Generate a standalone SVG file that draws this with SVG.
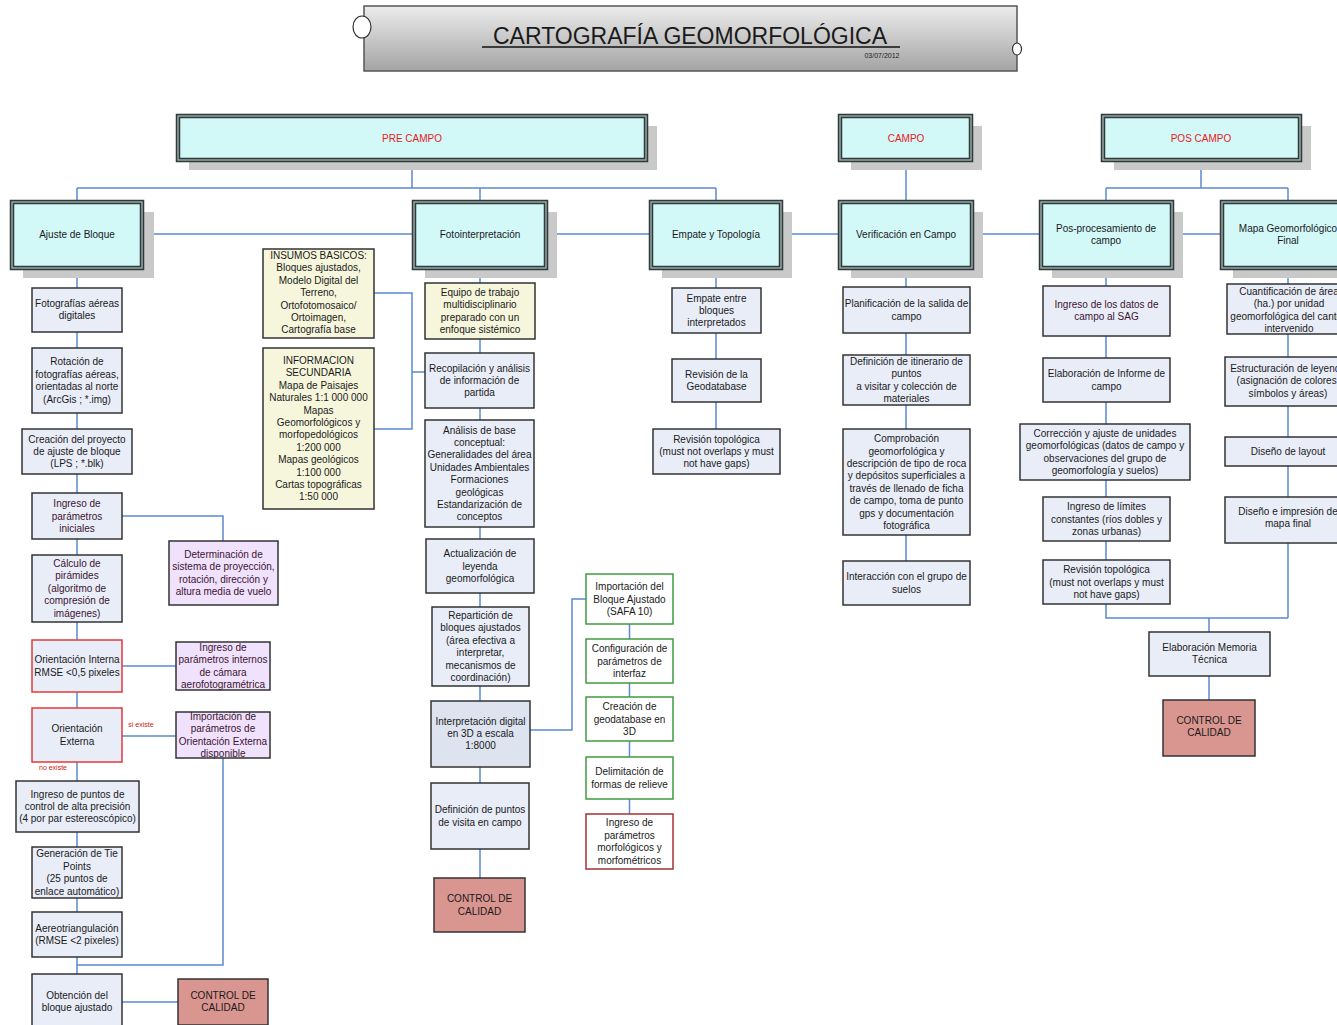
<svg xmlns="http://www.w3.org/2000/svg" width="1337" height="1025" viewBox="0 0 1337 1025">
<defs>
<linearGradient id="tg" x1="0" y1="0" x2="0" y2="1">
<stop offset="0" stop-color="#ececec"/>
<stop offset="1" stop-color="#a4a4a4"/>
</linearGradient>
</defs>
<style>
text{font-family:"Liberation Sans",Arial,sans-serif;font-size:10px;fill:#1a1a1a;text-anchor:middle}
.c{stroke:#5b8bd1;stroke-width:1.5;fill:none}
.b{fill:#e9edf8;stroke:#333;stroke-width:1.5}
.p{fill:#f0e2fc;stroke:#333;stroke-width:1.5}
.y{fill:#f6f6dc;stroke:#333;stroke-width:1.5}
.r{fill:#e9edf8;stroke:#e23a3a;stroke-width:1.5}
.g{fill:#ffffff;stroke:#3f9a3f;stroke-width:1.5}
.gr{fill:#ffffff;stroke:#a83030;stroke-width:1.5}
.q{fill:#d9958f;stroke:#333;stroke-width:1.5}
.cy{fill:#d2f8f8;stroke:#2e3b3b;stroke-width:4.5}
.ci{fill:none;stroke:#a8b4b4;stroke-width:1.3}
.sh{fill:#c9c9c9}
.h{fill:#e8201a}
.m{fill:#3c1430}
.lbl{fill:#d02020;font-size:7px}
</style>

<g id="title">
<rect x="364" y="6" width="653" height="65" fill="url(#tg)" stroke="#555" stroke-width="1.5"/>
<ellipse cx="362" cy="27" rx="9" ry="11" fill="#fff" stroke="#333" stroke-width="1.2"/>
<ellipse cx="1017" cy="49" rx="4.5" ry="6" fill="#fff" stroke="#333" stroke-width="1.2"/>
<text x="690" y="44" style="font-size:23px" textLength="394" lengthAdjust="spacingAndGlyphs">CARTOGRAFÍA GEOMORFOLÓGICA</text>
<line x1="482" y1="47" x2="900" y2="47" stroke="#111" stroke-width="1.3"/>
<text x="882" y="58" style="font-size:7px">03/07/2012</text>
</g>

<g id="connectors">
<path class="c" d="M412,160V188M77,188H716M77,188V202M480,188V202M716,188V202"/>
<path class="c" d="M906,160V202"/>
<path class="c" d="M1201,160V188M1106,188H1288M1106,188V202M1288,188V202"/>
<path class="c" d="M142,234H414M546,234H651M781,234H840M972,234H1041M1172,234H1222"/>
<path class="c" d="M77,268V288M77,332V348M77,413V429M77,474V493M77,539V555M77,622V640M77,692V708M77,762V781M77,832V847M77,898V912M77,957V974"/>
<path class="c" d="M122,516H223V541M122,666H176M122,736H176M223,758V965H77M122,1002H178"/>
<path class="c" d="M374,293H412V429H374M412,372H425"/>
<path class="c" d="M480,268V283M480,339V353M480,408V420M480,527V539M480,593V607M480,686V701M480,767V783M480,849V878"/>
<path class="c" d="M530,730H572V599H586"/>
<path class="c" d="M629.5,624V639M629.5,683V697M629.5,741V757M629.5,799V814"/>
<path class="c" d="M716,268V288M716,333V359M716,402V429"/>
<path class="c" d="M906,268V287M906,333V355M906,405V429M906,535V561"/>
<path class="c" d="M1106,268V286M1106,336V358M1106,402V424M1106,480V497M1106,541V560M1106,604V618H1288M1288,543V618M1209,618V632M1209,676V700"/>
<path class="c" d="M1288,268V284M1288,334V357M1288,406V437M1288,466V497"/>
</g>

<g id="pre-campo">
<rect class="sh" x="189" y="126" width="468" height="44"/>
<rect class="cy" x="178" y="116" width="468" height="44"/><rect class="ci" x="178" y="116" width="468" height="44"/>
<text class="h" x="412" y="142">PRE CAMPO</text>
</g>
<g id="campo">
<rect class="sh" x="851" y="126" width="131" height="44"/>
<rect class="cy" x="840" y="116" width="131" height="44"/><rect class="ci" x="840" y="116" width="131" height="44"/>
<text class="h" x="906" y="142">CAMPO</text>
</g>
<g id="pos-campo">
<rect class="sh" x="1114" y="126" width="197" height="44"/>
<rect class="cy" x="1103" y="116" width="197" height="44"/><rect class="ci" x="1103" y="116" width="197" height="44"/>
<text class="h" x="1201" y="142">POS CAMPO</text>
</g>

<g id="ajuste-bloque">
<rect class="sh" x="23" y="212" width="131" height="66"/>
<rect class="cy" x="12" y="202" width="130" height="66"/><rect class="ci" x="12" y="202" width="130" height="66"/>
<text x="77" y="238">Ajuste de Bloque</text>
</g>
<g id="fotointerpretacion">
<rect class="sh" x="425" y="212" width="132" height="66"/>
<rect class="cy" x="414" y="202" width="132" height="66"/><rect class="ci" x="414" y="202" width="132" height="66"/>
<text x="480" y="238">Fotointerpretación</text>
</g>
<g id="empate-topologia">
<rect class="sh" x="662" y="212" width="130" height="66"/>
<rect class="cy" x="651" y="202" width="130" height="66"/><rect class="ci" x="651" y="202" width="130" height="66"/>
<text x="716" y="238">Empate y Topología</text>
</g>
<g id="verificacion-campo">
<rect class="sh" x="851" y="212" width="132" height="66"/>
<rect class="cy" x="840" y="202" width="132" height="66"/><rect class="ci" x="840" y="202" width="132" height="66"/>
<text x="906" y="238">Verificación en Campo</text>
</g>
<g id="pos-procesamiento">
<rect class="sh" x="1052" y="212" width="131" height="66"/>
<rect class="cy" x="1041" y="202" width="131" height="66"/><rect class="ci" x="1041" y="202" width="131" height="66"/>
<text x="1106" y="232"><tspan x="1106">Pos-procesamiento de</tspan><tspan x="1106" dy="12.4">campo</tspan></text>
</g>
<g id="mapa-final">
<rect class="sh" x="1233" y="212" width="132" height="66"/>
<rect class="cy" x="1222" y="202" width="132" height="66"/><rect class="ci" x="1222" y="202" width="132" height="66"/>
<text x="1288" y="232"><tspan x="1288">Mapa Geomorfológico</tspan><tspan x="1288" dy="12.4">Final</tspan></text>
</g>

<!-- Ajuste de Bloque column -->
<g id="n-fotografias">
<rect class="b" x="32" y="288" width="90" height="44"/>
<text x="77" y="307"><tspan x="77">Fotografías aéreas</tspan><tspan x="77" dy="12.4">digitales</tspan></text>
</g>
<g id="n-rotacion">
<rect class="b" x="32" y="348" width="90" height="65"/>
<text x="77" y="365.3"><tspan x="77">Rotación de</tspan><tspan x="77" dy="12.4">fotografías aéreas,</tspan><tspan x="77" dy="12.4">orientadas al norte</tspan><tspan x="77" dy="12.4">(ArcGis ; *.img)</tspan></text>
</g>
<g id="n-creacion-proyecto">
<rect class="b" x="22" y="429" width="110" height="45"/>
<text x="77" y="442.6"><tspan x="77">Creación del proyecto</tspan><tspan x="77" dy="12.4">de ajuste de bloque</tspan><tspan x="77" dy="12.4">(LPS ; *.blk)</tspan></text>
</g>
<g id="n-ingreso-iniciales">
<rect class="b" x="32" y="493" width="90" height="46"/>
<text class="m" x="77" y="507.1"><tspan x="77">Ingreso de</tspan><tspan x="77" dy="12.4">parámetros</tspan><tspan x="77" dy="12.4">iniciales</tspan></text>
</g>
<g id="n-determinacion">
<rect class="p" x="169" y="541" width="109" height="64"/>
<text class="m" x="223.5" y="557.8"><tspan x="223.5">Determinación de</tspan><tspan x="223.5" dy="12.4">sistema de proyección,</tspan><tspan x="223.5" dy="12.4">rotación, dirección y</tspan><tspan x="223.5" dy="12.4">altura media de vuelo</tspan></text>
</g>
<g id="n-calculo">
<rect class="b" x="32" y="555" width="90" height="67"/>
<text class="m" x="77" y="567"><tspan x="77">Cálculo de</tspan><tspan x="77" dy="12.4">pirámides</tspan><tspan x="77" dy="12.4">(algoritmo de</tspan><tspan x="77" dy="12.4">compresión de</tspan><tspan x="77" dy="12.4">imágenes)</tspan></text>
</g>
<g id="n-orient-interna">
<rect class="r" x="32" y="640" width="90" height="52"/>
<text x="77" y="663.3"><tspan x="77">Orientación Interna</tspan><tspan x="77" dy="12.4">RMSE &lt;0,5 pixeles</tspan></text>
</g>
<g id="n-param-internos">
<rect class="p" x="176" y="642" width="94" height="48"/>
<text class="m" x="223" y="651"><tspan x="223">Ingreso de</tspan><tspan x="223" dy="12.4">parámetros internos</tspan><tspan x="223" dy="12.4">de cámara</tspan><tspan x="223" dy="12.4">aerofotogramétrica</tspan></text>
</g>
<g id="n-orient-externa">
<rect class="r" x="32" y="708" width="90" height="54"/>
<text x="77" y="732.3"><tspan x="77">Orientación</tspan><tspan x="77" dy="12.4">Externa</tspan></text>
<text class="lbl" x="141" y="727">si existe</text>
<text class="lbl" x="53" y="770">no existe</text>
</g>
<g id="n-import-oe">
<rect class="p" x="176" y="712" width="94" height="46"/>
<text class="m" x="223" y="719.8"><tspan x="223">Importación de</tspan><tspan x="223" dy="12.4">parámetros de</tspan><tspan x="223" dy="12.4">Orientación Externa</tspan><tspan x="223" dy="12.4">disponible</tspan></text>
</g>
<g id="n-puntos-control">
<rect class="b" x="16" y="781" width="123" height="51"/>
<text x="77.5" y="797.6"><tspan x="77.5">Ingreso de puntos de</tspan><tspan x="77.5" dy="12.4">control de alta precisión</tspan><tspan x="77.5" dy="12.4">(4 por par estereoscópico)</tspan></text>
</g>
<g id="n-tie-points">
<rect class="b" x="32" y="847" width="90" height="51"/>
<text x="77" y="857.3"><tspan x="77">Generación de Tie</tspan><tspan x="77" dy="12.4">Points</tspan><tspan x="77" dy="12.4">(25 puntos de</tspan><tspan x="77" dy="12.4">enlace automático)</tspan></text>
</g>
<g id="n-aereotriangulacion">
<rect class="b" x="32" y="912" width="90" height="45"/>
<text x="77" y="931.8"><tspan x="77">Aereotriangulación</tspan><tspan x="77" dy="12.4">(RMSE &lt;2 pixeles)</tspan></text>
</g>
<g id="n-obtencion">
<rect class="b" x="32" y="974" width="90" height="56"/>
<text x="77" y="999"><tspan x="77">Obtención del</tspan><tspan x="77" dy="12.4">bloque ajustado</tspan></text>
</g>
<g id="n-qc-1">
<rect class="q" x="178" y="979" width="90" height="46"/>
<text x="223" y="999"><tspan x="223">CONTROL DE</tspan><tspan x="223" dy="12.4">CALIDAD</tspan></text>
</g>

<!-- Insumos -->
<g id="n-insumos">
<rect class="y" x="263" y="249" width="111" height="89"/>
<text x="318.5" y="259"><tspan x="318.5">INSUMOS BASICOS:</tspan><tspan x="318.5" dy="12.4">Bloques ajustados,</tspan><tspan x="318.5" dy="12.4">Modelo Digital del</tspan><tspan x="318.5" dy="12.4">Terreno,</tspan><tspan x="318.5" dy="12.4">Ortofotomosaico/</tspan><tspan x="318.5" dy="12.4">Ortoimagen,</tspan><tspan x="318.5" dy="12.4">Cartografía base</tspan></text>
</g>
<g id="n-info-secundaria">
<rect class="y" x="263" y="348" width="111" height="161"/>
<text x="318.5" y="364"><tspan x="318.5">INFORMACION</tspan><tspan x="318.5" dy="12.4">SECUNDARIA</tspan><tspan x="318.5" dy="12.4">Mapa de Paisajes</tspan><tspan x="318.5" dy="12.4">Naturales 1:1 000 000</tspan><tspan x="318.5" dy="12.4">Mapas</tspan><tspan x="318.5" dy="12.4">Geomorfológicos y</tspan><tspan x="318.5" dy="12.4">morfopedológicos</tspan><tspan x="318.5" dy="12.4">1:200 000</tspan><tspan x="318.5" dy="12.4">Mapas geológicos</tspan><tspan x="318.5" dy="12.4">1:100 000</tspan><tspan x="318.5" dy="12.4">Cartas topográficas</tspan><tspan x="318.5" dy="12.4">1:50 000</tspan></text>
</g>

<!-- Fotointerpretacion column -->
<g id="n-equipo">
<rect class="y" x="425" y="283" width="110" height="56"/>
<text x="480" y="295.8"><tspan x="480">Equipo de trabajo</tspan><tspan x="480" dy="12.4">multidisciplinario</tspan><tspan x="480" dy="12.4">preparado con un</tspan><tspan x="480" dy="12.4">enfoque sistémico</tspan></text>
</g>
<g id="n-recopilacion">
<rect class="b" x="425" y="353" width="109" height="55"/>
<text x="479.5" y="371.6"><tspan x="479.5">Recopilación y análisis</tspan><tspan x="479.5" dy="12.4">de información de</tspan><tspan x="479.5" dy="12.4">partida</tspan></text>
</g>
<g id="n-analisis">
<rect class="b" x="425" y="420" width="109" height="107"/>
<text x="479.5" y="433.6"><tspan x="479.5">Análisis de base</tspan><tspan x="479.5" dy="12.4">conceptual:</tspan><tspan x="479.5" dy="12.4">Generalidades del área</tspan><tspan x="479.5" dy="12.4">Unidades Ambientales</tspan><tspan x="479.5" dy="12.4">Formaciones</tspan><tspan x="479.5" dy="12.4">geológicas</tspan><tspan x="479.5" dy="12.4">Estandarización de</tspan><tspan x="479.5" dy="12.4">conceptos</tspan></text>
</g>
<g id="n-actualizacion">
<rect class="b" x="426" y="539" width="108" height="54"/>
<text x="480" y="557.1"><tspan x="480">Actualización de</tspan><tspan x="480" dy="12.4">leyenda</tspan><tspan x="480" dy="12.4">geomorfológica</tspan></text>
</g>
<g id="n-reparticion">
<rect class="b" x="432" y="607" width="97" height="79"/>
<text x="480.5" y="619"><tspan x="480.5">Repartición de</tspan><tspan x="480.5" dy="12.4">bloques ajustados</tspan><tspan x="480.5" dy="12.4">(área efectiva a</tspan><tspan x="480.5" dy="12.4">interpretar,</tspan><tspan x="480.5" dy="12.4">mecanismos de</tspan><tspan x="480.5" dy="12.4">coordinación)</tspan></text>
</g>
<g id="n-interpretacion">
<rect class="b" x="431" y="701" width="99" height="66" style="fill:#dde3ef"/>
<text x="480.5" y="724.5"><tspan x="480.5">Interpretación digital</tspan><tspan x="480.5" dy="12.4">en 3D a escala</tspan><tspan x="480.5" dy="12.4">1:8000</tspan></text>
</g>
<g id="n-definicion-puntos">
<rect class="b" x="431" y="783" width="98" height="66"/>
<text x="480" y="813.3"><tspan x="480">Definición de puntos</tspan><tspan x="480" dy="12.4">de visita en campo</tspan></text>
</g>
<g id="n-qc-2">
<rect class="q" x="434" y="878" width="91" height="54"/>
<text x="479.5" y="902.3"><tspan x="479.5">CONTROL DE</tspan><tspan x="479.5" dy="12.4">CALIDAD</tspan></text>
</g>

<!-- Green column -->
<g id="n-import-bloque">
<rect class="g" x="586" y="574" width="87" height="50"/>
<text x="629.5" y="590.1"><tspan x="629.5">Importación del</tspan><tspan x="629.5" dy="12.4">Bloque Ajustado</tspan><tspan x="629.5" dy="12.4">(SAFA 10)</tspan></text>
</g>
<g id="n-configuracion">
<rect class="g" x="586" y="639" width="87" height="44"/>
<text x="629.5" y="652.1"><tspan x="629.5">Configuración de</tspan><tspan x="629.5" dy="12.4">parámetros de</tspan><tspan x="629.5" dy="12.4">interfaz</tspan></text>
</g>
<g id="n-creacion-gdb">
<rect class="g" x="586" y="697" width="87" height="44"/>
<text x="629.5" y="710.1"><tspan x="629.5">Creación de</tspan><tspan x="629.5" dy="12.4">geodatabase en</tspan><tspan x="629.5" dy="12.4">3D</tspan></text>
</g>
<g id="n-delimitacion">
<rect class="g" x="586" y="757" width="87" height="42"/>
<text x="629.5" y="775.3"><tspan x="629.5">Delimitación de</tspan><tspan x="629.5" dy="12.4">formas de relieve</tspan></text>
</g>
<g id="n-param-morfo">
<rect class="gr" x="586" y="814" width="87" height="55"/>
<text x="629.5" y="826.3"><tspan x="629.5">Ingreso de</tspan><tspan x="629.5" dy="12.4">parámetros</tspan><tspan x="629.5" dy="12.4">morfológicos y</tspan><tspan x="629.5" dy="12.4">morfométricos</tspan></text>
</g>

<!-- Empate column -->
<g id="n-empate-bloques">
<rect class="b" x="672" y="288" width="89" height="45"/>
<text x="716.5" y="301.6"><tspan x="716.5">Empate entre</tspan><tspan x="716.5" dy="12.4">bloques</tspan><tspan x="716.5" dy="12.4">interpretados</tspan></text>
</g>
<g id="n-revision-gdb">
<rect class="b" x="672" y="359" width="89" height="43"/>
<text x="716.5" y="377.8"><tspan x="716.5">Revisión de la</tspan><tspan x="716.5" dy="12.4">Geodatabase</tspan></text>
</g>
<g id="n-revision-topo-1">
<rect class="b" x="653" y="429" width="127" height="45"/>
<text x="716.5" y="442.6"><tspan x="716.5">Revisión topológica</tspan><tspan x="716.5" dy="12.4">(must not overlaps y must</tspan><tspan x="716.5" dy="12.4">not have gaps)</tspan></text>
</g>

<!-- Campo column -->
<g id="n-planificacion">
<rect class="b" x="843" y="287" width="127" height="46"/>
<text x="906.5" y="307.3"><tspan x="906.5">Planificación de la salida de</tspan><tspan x="906.5" dy="12.4">campo</tspan></text>
</g>
<g id="n-itinerario">
<rect class="b" x="843" y="355" width="127" height="50"/>
<text x="906.5" y="364.8"><tspan x="906.5">Definición de itinerario de</tspan><tspan x="906.5" dy="12.4">puntos</tspan><tspan x="906.5" dy="12.4">a visitar y colección de</tspan><tspan x="906.5" dy="12.4">materiales</tspan></text>
</g>
<g id="n-comprobacion">
<rect class="b" x="843" y="429" width="127" height="106"/>
<text x="906.5" y="442.1"><tspan x="906.5">Comprobación</tspan><tspan x="906.5" dy="12.4">geomorfológica y</tspan><tspan x="906.5" dy="12.4">descripción de tipo de roca</tspan><tspan x="906.5" dy="12.4">y depósitos superficiales a</tspan><tspan x="906.5" dy="12.4">través de llenado de ficha</tspan><tspan x="906.5" dy="12.4">de campo, toma de punto</tspan><tspan x="906.5" dy="12.4">gps y documentación</tspan><tspan x="906.5" dy="12.4">fotográfica</tspan></text>
</g>
<g id="n-interaccion">
<rect class="b" x="843" y="561" width="127" height="44"/>
<text x="906.5" y="580.3"><tspan x="906.5">Interacción con el grupo de</tspan><tspan x="906.5" dy="12.4">suelos</tspan></text>
</g>

<!-- Pos column -->
<g id="n-ingreso-sag">
<rect class="b" x="1043" y="286" width="127" height="50"/>
<text class="m" x="1106.5" y="307.5"><tspan x="1106.5">Ingreso de los datos de</tspan><tspan x="1106.5" dy="12.4">campo al SAG</tspan></text>
</g>
<g id="n-informe">
<rect class="b" x="1043" y="358" width="127" height="44"/>
<text x="1106.5" y="377.3"><tspan x="1106.5">Elaboración de Informe de</tspan><tspan x="1106.5" dy="12.4">campo</tspan></text>
</g>
<g id="n-correccion">
<rect class="b" x="1020" y="424" width="170" height="56"/>
<text x="1105" y="436.8"><tspan x="1105">Corrección y ajuste de unidades</tspan><tspan x="1105" dy="12.4">geomorfológicas (datos de campo y</tspan><tspan x="1105" dy="12.4">observaciones del grupo de</tspan><tspan x="1105" dy="12.4">geomorfología y suelos)</tspan></text>
</g>
<g id="n-limites">
<rect class="b" x="1043" y="497" width="127" height="44"/>
<text x="1106.5" y="510.1"><tspan x="1106.5">Ingreso de límites</tspan><tspan x="1106.5" dy="12.4">constantes (ríos dobles y</tspan><tspan x="1106.5" dy="12.4">zonas urbanas)</tspan></text>
</g>
<g id="n-revision-topo-2">
<rect class="b" x="1043" y="560" width="127" height="44"/>
<text x="1106.5" y="573.1"><tspan x="1106.5">Revisión topológica</tspan><tspan x="1106.5" dy="12.4">(must not overlaps y must</tspan><tspan x="1106.5" dy="12.4">not have gaps)</tspan></text>
</g>

<!-- Mapa column -->
<g id="n-cuantificacion">
<rect class="b" x="1227" y="284" width="124" height="50"/>
<text x="1289" y="295"><tspan x="1289">Cuantificación de área</tspan><tspan x="1289" dy="12.4">(ha.) por unidad</tspan><tspan x="1289" dy="12.4">geomorfológica del cantón</tspan><tspan x="1289" dy="12.4">intervenido</tspan></text>
</g>
<g id="n-estructuracion">
<rect class="b" x="1225" y="357" width="126" height="49"/>
<text x="1288" y="372"><tspan x="1288">Estructuración de leyenda</tspan><tspan x="1288" dy="12.4">(asignación de colores,</tspan><tspan x="1288" dy="12.4">símbolos y áreas)</tspan></text>
</g>
<g id="n-layout">
<rect class="b" x="1225" y="437" width="126" height="29"/>
<text x="1288" y="455">Diseño de layout</text>
</g>
<g id="n-impresion">
<rect class="b" x="1225" y="497" width="126" height="46"/>
<text x="1288" y="515"><tspan x="1288">Diseño e impresión de</tspan><tspan x="1288" dy="12.4">mapa final</tspan></text>
</g>
<g id="n-memoria">
<rect class="b" x="1149" y="632" width="121" height="44"/>
<text x="1209.5" y="651"><tspan x="1209.5">Elaboración Memoria</tspan><tspan x="1209.5" dy="12.4">Técnica</tspan></text>
</g>
<g id="n-qc-3">
<rect class="q" x="1163" y="700" width="92" height="56"/>
<text x="1209" y="724"><tspan x="1209">CONTROL DE</tspan><tspan x="1209" dy="12.4">CALIDAD</tspan></text>
</g>
</svg>
